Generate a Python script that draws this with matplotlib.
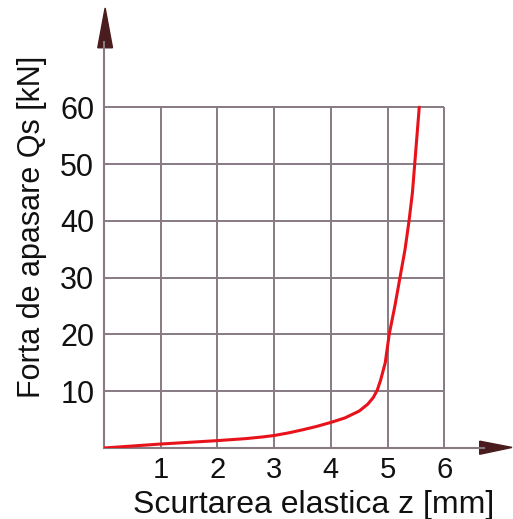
import matplotlib
matplotlib.use('Agg')
import matplotlib.pyplot as plt
from matplotlib.patches import Polygon

# curve
z_mm = [0, 0.5, 1, 1.5, 2, 2.5, 2.8, 3, 3.25, 3.5, 3.75, 4, 4.25, 4.5, 4.65, 4.75, 4.82,
        4.88, 4.96, 5.03, 5.13, 5.22, 5.31, 5.38, 5.44, 5.48, 5.52, 5.56]
q_kn = [0, 0.35, 0.7, 1.0, 1.3, 1.65, 1.95, 2.2, 2.65, 3.2, 3.8, 4.5, 5.3, 6.5, 7.7, 8.9, 10.2,
        12, 15, 20, 25, 30, 35, 40, 45, 50, 55, 60]

x_ticks = [1, 2, 3, 4, 5, 6]
y_ticks = [10, 20, 30, 40, 50, 60]

plt.rcParams['font.family'] = ['Liberation Sans', 'DejaVu Sans']

grid_col = '#887a82'
arrow_col = '#4a1c1e'

fig = plt.figure(figsize=(5.13, 5.19), dpi=100)
# axes spans from the origin to the arrow tips
ax = fig.add_axes([104/513, 71/519, 408/513, 440/519])
xmax = 408/56.7
ymax = 440/5.68
ax.set_xlim(0, xmax)
ax.set_ylim(0, ymax)
for s in ax.spines.values():
    s.set_visible(False)

# grid only inside 0..6 x 0..60
ax.vlines(x_ticks, 0, 60, color=grid_col, lw=1.4)
ax.hlines(y_ticks, 0, 6, color=grid_col, lw=1.4)

# axis lines and arrow heads
ax.plot([0, 0], [0, ymax - 6], color=grid_col, lw=1.5, clip_on=False)
ax.plot([0, xmax - 0.5], [0, 0], color=grid_col, lw=1.5, clip_on=False)
ax.add_patch(Polygon([[0.02, ymax], [-0.11, ymax - 7], [0.15, ymax - 7]],
                     closed=True, color=arrow_col, clip_on=False))
ax.add_patch(Polygon([[xmax, 0.1], [xmax - 0.57, 1.2], [xmax - 0.57, -1.1]],
                     closed=True, color=arrow_col, clip_on=False))

ax.plot(z_mm, q_kn, color='#e8121a', lw=2.2, solid_capstyle='round',
        solid_joinstyle='round')

ax.set_xticks(x_ticks)
ax.set_yticks(y_ticks)
ax.tick_params(length=0, colors='#111111')
ax.tick_params(axis='x', pad=6, labelsize=21)
ax.tick_params(axis='y', pad=7, labelsize=22)

fig.text(314/513, 1 - 513/519, 'Scurtarea elastica z [mm]', fontsize=23,
         ha='center', va='baseline', color='#111111')
fig.text(32/513, 1 - 227/519, 'Forta de apasare Qs [kN]', fontsize=22,
         ha='center', va='center', rotation=90, color='#111111')

plt.savefig('out.png', dpi=100)
